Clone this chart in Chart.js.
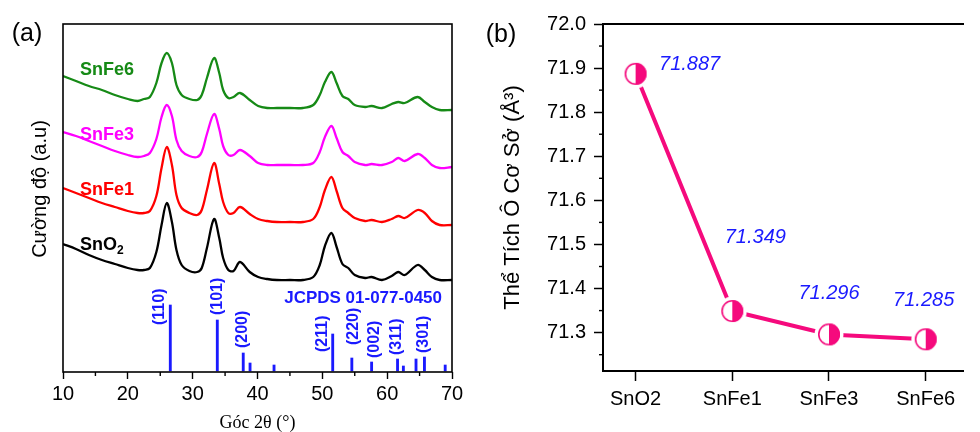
<!DOCTYPE html>
<html>
<head>
<meta charset="utf-8">
<script src="https://cdn.jsdelivr.net/npm/chart.js@4.4.1/dist/chart.umd.min.js"></script>
<style>
  body { margin: 0; background: #fff; width: 980px; height: 432px; overflow: hidden; position: relative; }
  #panelA { position: absolute; left: 0; top: 0; width: 480px; height: 432px; }
  #panelB { position: absolute; left: 480px; top: 0; width: 500px; height: 432px; }
</style>
</head>
<body>
<div id="panelA"><canvas id="xrdChart" width="480" height="432"></canvas></div>
<div id="panelB"><canvas id="volChart" width="500" height="432"></canvas></div>
<script>
// ---- (a) XRD patterns ----
const angles = [10, 12, 14, 16, 18, 20, 21.5, 22.5, 23.4, 24.4, 25.2, 26.0, 26.8, 27.5, 28.3, 29.5, 30.7, 31.4, 32.2, 33.3,
  34.1, 34.7, 35.5, 36.3, 37.3, 38.8, 40.1, 41.5, 43, 45, 47, 48.6, 49.6, 50.4, 51.4, 52.2, 53.1, 54.0, 55.0, 56.6,
  57.6, 59.2, 60.7, 61.7, 62.7, 64.7, 65.8, 66.9, 68.1, 70];

const snFe6 = [295, 290, 285, 281, 276, 272, 270, 272, 274, 288, 308, 318, 308, 286, 276, 272, 271, 276, 293, 313,
  298, 281, 273, 274, 278, 271, 265, 263, 263, 263, 263, 266, 276, 289, 299, 288, 275, 272, 266, 264,
  265, 263, 267, 269, 268, 274, 269, 264, 261, 261];
const snFe3 = [239, 235, 230, 225, 220, 216, 214, 215, 218, 232, 254, 266, 255, 231, 220, 215, 214, 219, 237, 257,
  242, 225, 216, 216, 221, 215, 208, 206, 206, 206, 206, 208, 219, 234, 245, 233, 219, 215, 209, 206,
  207, 206, 209, 213, 210, 217, 213, 206, 203, 204];
const snFe1 = [183, 178, 173, 168, 164, 160, 158, 158, 160, 175, 203, 224, 206, 176, 163, 158, 156, 161, 181, 208,
  187, 169, 158, 158, 164, 157, 152, 150, 149, 149, 149, 152, 164, 181, 194, 180, 163, 158, 153, 150,
  151, 149, 152, 155, 153, 161, 158, 150, 146, 146];
const snO2 = [127, 122, 116, 111, 107, 103, 101, 101, 103, 119, 146, 168, 149, 121, 106, 100, 99, 103, 123, 152,
  133, 113, 101, 100, 109, 99, 94, 92, 91, 91, 91, 94, 106, 125, 138, 124, 107, 103, 96, 93,
  94, 91, 95, 99, 96, 106, 101, 94, 91, 91];

// JCPDS 01-077-0450 reference lines
const stickAngles = [26.55, 33.8, 37.8, 38.85, 42.55, 51.6, 54.55, 57.6, 61.6, 62.5, 64.45, 65.75, 68.95];
const stickHeights = [66, 51, 18, 8, 6, 37, 13, 9, 12, 5, 12, 14, 6];
const stickHkl = ['(110)', '(101)', '(200)', '', '', '(211)', '(220)', '(002)', '(311)', '', '', '(301)', ''];

// ---- (b) unit cell volume ----
const samples = ['SnO2', 'SnFe1', 'SnFe3', 'SnFe6'];
const cellVolume = [71.887, 71.349, 71.296, 71.285];

const SANS = '"Liberation Sans", Arial, sans-serif';
const BLUE = '#1a1aff';
const PINK = '#f50a7d';

function pts(ys) {
    return angles.map((a, i) => ({ x: a, y: ys[i] }));
}

const xrdDecor = {
    id: 'xrdDecor',
    afterDraw(chart, args, opts) {
        const { ctx, chartArea: a, scales } = chart;
        ctx.save();
        ctx.strokeStyle = '#000';
        ctx.lineWidth = 1.6;
        ctx.strokeRect(a.left, a.top, a.right - a.left, a.bottom - a.top);
        ctx.lineWidth = 1.4;
        for (let v = 15; v < 70; v += 10) {
            const px = scales.x.getPixelForValue(v);
            ctx.beginPath();
            ctx.moveTo(px, a.bottom);
            ctx.lineTo(px, a.bottom + 4);
            ctx.stroke();
        }

        ctx.fillStyle = '#000';
        ctx.font = '25px ' + SANS;
        ctx.textAlign = 'center';
        ctx.textBaseline = 'middle';
        ctx.fillText('(a)', 27, 34);

        ctx.save();
        ctx.translate(40, 189);
        ctx.rotate(-Math.PI / 2);
        ctx.font = '20px ' + SANS;
        ctx.fillText('Cường độ (a.u)', 0, 0);
        ctx.restore();

        ctx.textAlign = 'left';
        ctx.font = 'bold 18px ' + SANS;
        opts.names.forEach(n => {
            ctx.fillStyle = n.color;
            ctx.fillText(n.text, 80, n.y);
            if (n.sub) {
                const w = ctx.measureText(n.text).width;
                ctx.font = 'bold 12px ' + SANS;
                ctx.fillText(n.sub, 80 + w, n.y + 6);
                ctx.font = 'bold 18px ' + SANS;
            }
        });

        ctx.fillStyle = BLUE;
        ctx.font = 'bold 17px ' + SANS;
        ctx.textAlign = 'right';
        ctx.fillText('JCPDS 01-077-0450', 442, 298);

        const meta = chart.getDatasetMeta(4);
        ctx.font = 'bold 16px ' + SANS;
        ctx.textAlign = 'left';
        meta.data.forEach((bar, i) => {
            const hkl = stickHkl[i];
            if (!hkl) return;
            const off = opts.hklOffset[hkl] || [0, -4];
            ctx.save();
            ctx.translate(bar.x + off[0], bar.y + off[1]);
            ctx.rotate(-Math.PI / 2);
            ctx.fillText(hkl, 0, 0);
            ctx.restore();
        });
        ctx.restore();
    }
};

new Chart(document.getElementById('xrdChart'), {
    type: 'line',
    data: {
        datasets: [
            { label: 'SnO2', data: pts(snO2), borderColor: '#000000' },
            { label: 'SnFe1', data: pts(snFe1), borderColor: '#ff0000' },
            { label: 'SnFe3', data: pts(snFe3), borderColor: '#ff00ff' },
            { label: 'SnFe6', data: pts(snFe6), borderColor: '#168a16' },
            {
                type: 'bar',
                label: 'JCPDS',
                data: stickAngles.map((a, i) => ({ x: a, y: stickHeights[i] })),
                backgroundColor: BLUE,
                barThickness: 2.2,
                grouped: false
            }
        ]
    },
    options: {
        responsive: false,
        animation: false,
        devicePixelRatio: 1,
        layout: { padding: { left: 0, right: 28, top: 24, bottom: 0 } },
        elements: {
            line: { borderWidth: 2.3, tension: 0.35, fill: false },
            point: { radius: 0 }
        },
        scales: {
            x: {
                type: 'linear',
                min: 10,
                max: 70,
                offset: false,
                afterFit: s => { s.height = 60; },
                border: { display: false },
                grid: { drawOnChartArea: false, drawTicks: true, tickLength: 7, tickColor: '#000', tickWidth: 1.4, offset: false },
                ticks: { stepSize: 10, padding: 3, color: '#000', font: { family: SANS, size: 20 } },
                title: {
                    display: true,
                    text: 'Góc 2θ (°)',
                    color: '#000',
                    font: { family: '"Liberation Serif", "Times New Roman", serif', size: 18, lineHeight: 1 },
                    padding: { top: 0, bottom: 0 }
                }
            },
            y: {
                min: -1,
                max: 347,
                afterFit: s => { s.width = 63; },
                border: { display: false },
                grid: { display: false },
                ticks: { display: false }
            }
        },
        plugins: {
            legend: { display: false },
            tooltip: { enabled: false },
            xrdDecor: {
                names: [
                    { text: 'SnFe6', color: '#168a16', y: 70 },
                    { text: 'SnFe3', color: '#ff00ff', y: 135 },
                    { text: 'SnFe1', color: '#ff0000', y: 190 },
                    { text: 'SnO', sub: '2', color: '#000000', y: 245 }
                ],
                hklOffset: {
                    '(110)': [-11, 20], '(101)': [0, -5], '(200)': [-1, -5], '(211)': [-10, 18],
                    '(220)': [2, -13], '(002)': [3, -4], '(311)': [-1, -4], '(301)': [-1, -4]
                }
            }
        }
    },
    plugins: [xrdDecor]
});

// ---- (b) ----
function halfDot(r, gap, color) {
    const c = document.createElement('canvas');
    const s = Math.ceil(r + gap) * 2;
    c.width = s;
    c.height = s;
    const g = c.getContext('2d');
    const m = s / 2;
    g.fillStyle = '#fff';
    g.beginPath(); g.arc(m, m, r + gap, 0, Math.PI * 2); g.fill();
    g.fillStyle = color;
    g.beginPath(); g.arc(m, m, r, -Math.PI / 2, Math.PI / 2); g.closePath(); g.fill();
    g.strokeStyle = color;
    g.lineWidth = 1.6;
    g.beginPath(); g.arc(m, m, r - 0.8, 0, Math.PI * 2); g.stroke();
    return c;
}

const volDecor = {
    id: 'volDecor',
    afterDraw(chart, args, opts) {
        const { ctx, chartArea: a, scales } = chart;
        ctx.save();
        ctx.strokeStyle = '#000';
        ctx.lineWidth = 2;
        ctx.beginPath();
        ctx.moveTo(a.right, a.top);
        ctx.lineTo(a.left, a.top);
        ctx.lineTo(a.left, a.bottom);
        ctx.lineTo(a.right, a.bottom);
        ctx.stroke();
        ctx.lineWidth = 1.4;
        for (let v = 71.25; v < 72; v += 0.1) {
            const py = scales.y.getPixelForValue(v);
            ctx.beginPath();
            ctx.moveTo(a.left - 4, py);
            ctx.lineTo(a.left, py);
            ctx.stroke();
        }

        ctx.fillStyle = '#000';
        ctx.font = '25px ' + SANS;
        ctx.textAlign = 'center';
        ctx.textBaseline = 'middle';
        ctx.fillText('(b)', 21, 35);

        const meta = chart.getDatasetMeta(0);
        ctx.fillStyle = BLUE;
        ctx.font = 'italic 20px ' + SANS;
        meta.data.forEach((p, i) => {
            const off = opts.labelOffset[i];
            ctx.fillText(cellVolume[i].toFixed(3), p.x + off[0], p.y + off[1]);
        });
        ctx.restore();
    }
};

new Chart(document.getElementById('volChart'), {
    type: 'line',
    data: {
        datasets: [{
            label: 'Cell volume',
            data: cellVolume.map((v, i) => ({ x: i, y: v })),
            borderColor: PINK,
            borderWidth: 4,
            tension: 0,
            pointStyle: halfDot(11, 3.5, PINK),
            pointRadius: 12
        }]
    },
    options: {
        responsive: false,
        animation: false,
        devicePixelRatio: 1,
        layout: { padding: { left: 0, right: 0, top: 24, bottom: 0 } },
        scales: {
            x: {
                type: 'linear',
                min: -0.337,
                max: 3.396,
                afterFit: s => { s.height = 61; },
                afterBuildTicks: s => { s.ticks = samples.map((_, i) => ({ value: i })); },
                border: { display: false },
                grid: { drawOnChartArea: false, drawTicks: true, tickLength: 10, tickColor: '#000', tickWidth: 1.5 },
                ticks: { padding: 6, color: '#000', font: { family: SANS, size: 20 }, callback: v => samples[v] }
            },
            y: {
                min: 71.213,
                max: 72.0,
                afterFit: s => { s.width = 123; },
                afterBuildTicks: s => {
                    const t = [];
                    for (let k = 3; k <= 10; k++) t.push({ value: 71 + k / 10 });
                    s.ticks = t;
                },
                border: { display: false },
                grid: { drawOnChartArea: false, drawTicks: true, tickLength: 9, tickColor: '#000', tickWidth: 1.5 },
                ticks: { padding: 8, color: '#000', font: { family: SANS, size: 20 }, callback: v => v.toFixed(1) },
                title: {
                    display: true,
                    text: 'Thể Tích Ô Cơ Sở (Å³)',
                    color: '#000',
                    font: { family: SANS, size: 22 },
                    padding: { top: 20, bottom: 0 }
                }
            }
        },
        plugins: {
            legend: { display: false },
            tooltip: { enabled: false },
            volDecor: { labelOffset: [[54, -9], [23, -74], [0, -41], [-2, -39]] }
        }
    },
    plugins: [volDecor]
});
</script>
</body>
</html>
